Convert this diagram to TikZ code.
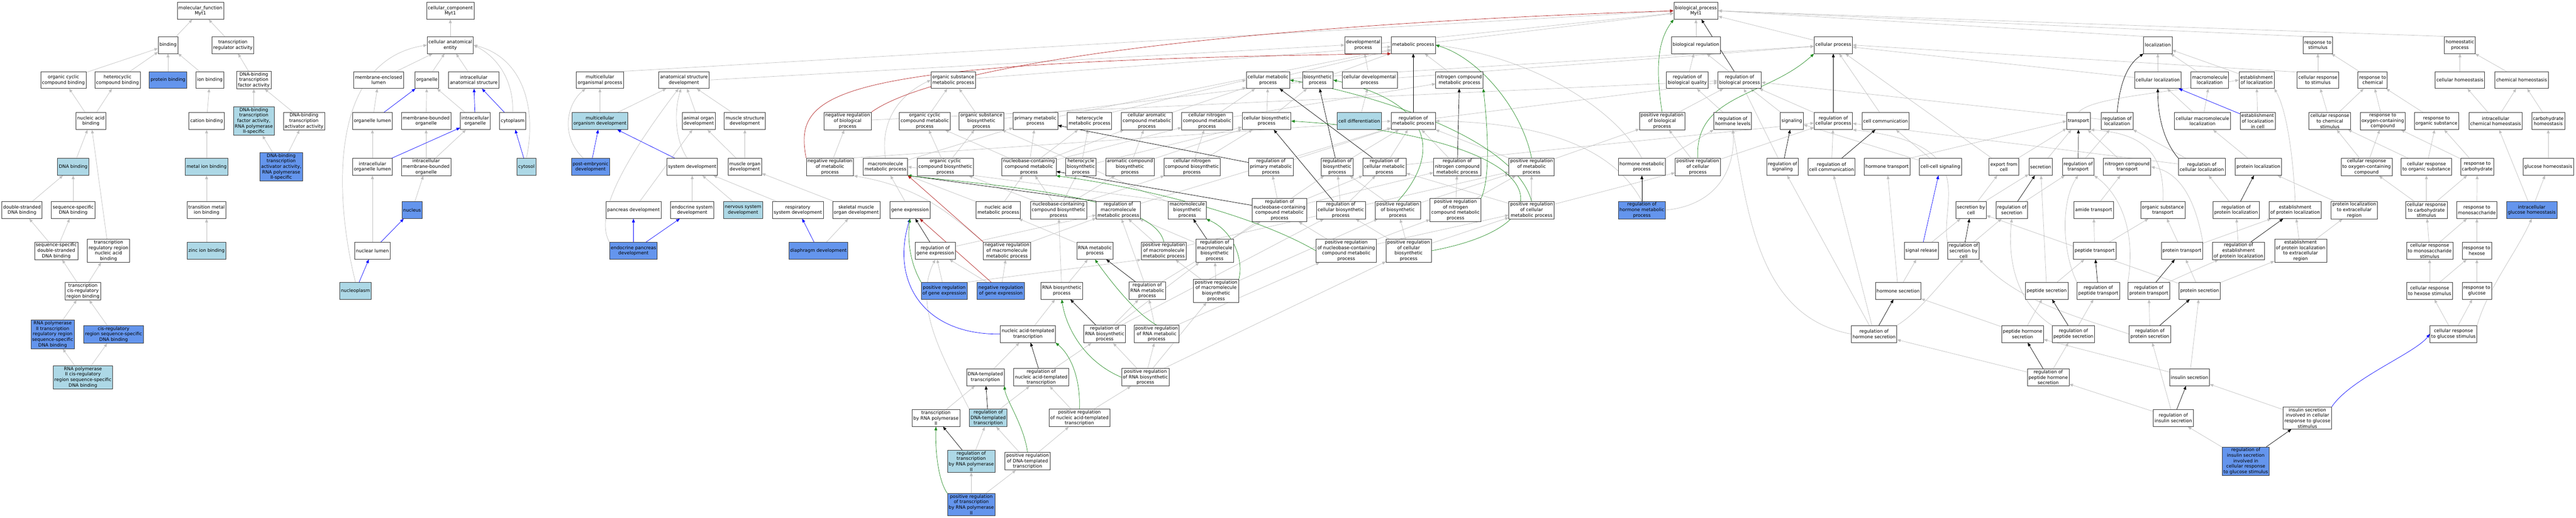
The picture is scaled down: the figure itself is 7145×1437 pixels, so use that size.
\documentclass[tikz,border=0pt]{standalone}
\usepackage{fontspec}
\setmainfont{DejaVu Sans}
\usetikzlibrary{arrows.meta}
\definecolor{egray}{RGB}{192,192,192}
\definecolor{lbc}{RGB}{173,216,230}
\definecolor{cfc}{RGB}{100,149,237}
\definecolor{grn}{RGB}{34,139,34}
\definecolor{rd}{RGB}{178,34,34}
\definecolor{bdr}{RGB}{55,55,55}
\pgfdeclarelayer{edges}
\pgfsetlayers{edges,main}
\begin{document}
\begin{tikzpicture}[x=1pt,y=-1pt,
 nd/.style={draw=bdr, line width=1.1pt, fill=white, font=\fontsize{12.7}{15.2}\selectfont, align=center, inner xsep=3.5pt, inner ysep=3pt, minimum height=47pt},
 lb/.style={nd, fill=lbc},
 cf/.style={nd, fill=cfc},
 eis/.style={draw=egray, line width=1pt, -{Triangle[length=10pt,width=8pt]}},
 epo/.style={eis, draw=blue},
 ere/.style={eis, draw=black},
 epr/.style={eis, draw=grn},
 ene/.style={eis, draw=rd}]
\useasboundingbox (0,0) rectangle (7145,1437);
% ---------- molecular function
\node[nd] (mf) at (556,30) {molecular\_function\\Myt1};
\node[nd] (binding) at (466,125) {binding};
\node[nd] (tra) at (646,125) {transcription\\regulator activity};
\node[nd] (occb) at (176,222) {organic cyclic\\compound binding};
\node[nd] (hcb) at (326,222) {heterocyclic\\compound binding};
\node[cf] (pb) at (466,222) {protein binding};
\node[nd] (ionb) at (582,222) {ion binding};
\node[nd] (dbtf) at (704,222) {DNA-binding\\transcription\\factor activity};
\node[nd] (nab) at (252,336) {nucleic acid\\binding};
\node[nd] (catb) at (573,336) {cation binding};
\node[lb] (dbtf2) at (704,336) {DNA-binding\\transcription\\factor activity,\\RNA polymerase\\II-specific};
\node[nd] (dbta) at (843,336) {DNA-binding\\transcription\\activator activity};
\node[lb] (dnab) at (203,463) {DNA binding};
\node[lb] (mib) at (573,463) {metal ion binding};
\node[cf] (dbta2) at (780,463) {DNA-binding\\transcription\\activator activity,\\RNA polymerase\\II-specific};
\node[nd] (dsdna) at (61,583) {double-stranded\\DNA binding};
\node[nd] (ssdna) at (203,583) {sequence-specific\\DNA binding};
\node[nd] (tmib) at (573,583) {transition metal\\ion binding};
\node[nd] (ssds) at (156,696) {sequence-specific\\double-stranded\\DNA binding};
\node[nd] (trr) at (301,696) {transcription\\regulatory region\\nucleic acid\\binding};
\node[lb] (zib) at (573,696) {zinc ion binding};
\node[nd] (tcrb) at (230,808) {transcription\\cis-regulatory\\region binding};
\node[cf] (rp2trr) at (146,928) {RNA polymerase\\II transcription\\regulatory region\\sequence-specific\\DNA binding};
\node[cf] (crr) at (315,928) {cis-regulatory\\region sequence-specific\\DNA binding};
\node[lb] (rp2cis) at (230,1047) {RNA polymerase\\II cis-regulatory\\region sequence-specific\\DNA binding};
% ---------- cellular component
\node[nd] (cc) at (1249,30) {cellular\_component\\Myt1};
\node[nd] (cae) at (1249,125) {cellular anatomical\\entity};
\node[nd] (mel) at (1050,222) {membrane-enclosed\\lumen};
\node[nd] (org) at (1184,222) {organelle};
\node[nd] (ias) at (1314,222) {intracellular\\anatomical structure};
\node[nd] (ol) at (1033,336) {organelle lumen};
\node[nd] (mbo) at (1182,336) {membrane-bounded\\organelle};
\node[nd] (io) at (1318,336) {intracellular\\organelle};
\node[nd] (cyto) at (1422,336) {cytoplasm};
\node[nd] (iol) at (1033,463) {intracellular\\organelle lumen};
\node[nd] (imbo) at (1182,463) {intracellular\\membrane-bounded\\organelle};
\node[lb] (cytosol) at (1460,463) {cytosol};
\node[cf] (nucleus) at (1143,583) {nucleus};
\node[nd] (nl) at (1033,696) {nuclear lumen};
\node[lb] (np) at (986,807) {nucleoplasm};
% ---------- development
\node[nd] (mop) at (1664,222) {multicellular\\organismal process};
\node[nd] (asd) at (1897,222) {anatomical structure\\development};
\node[lb] (mod) at (1664,336) {multicellular\\organism development};
\node[nd] (aod) at (1938,336) {animal organ\\development};
\node[nd] (msd) at (2066,336) {muscle structure\\development};
\node[cf] (ped) at (1638,463) {post-embryonic\\development};
\node[nd] (sd) at (1920,463) {system development};
\node[nd] (mod2) at (2066,463) {muscle organ\\development};
\node[nd] (pd) at (1757,583) {pancreas development};
\node[nd] (esd) at (1920,583) {endocrine system\\development};
\node[lb] (nsd) at (2061,583) {nervous system\\development};
\node[nd] (rsd) at (2213,583) {respiratory\\system development};
\node[nd] (smod) at (2375,583) {skeletal muscle\\organ development};
\node[cf] (epd) at (1757,696) {endocrine pancreas\\development};
\node[cf] (dd) at (2270,696) {diaphragm development};
% ---------- metabolism
\node[nd] (osmp) at (2644,222) {organic substance\\metabolic process};
\node[nd] (nrbp) at (2351,336) {negative regulation\\of biological\\process};
\node[nd] (occmp) at (2565,336) {organic cyclic\\compound metabolic\\process};
\node[nd] (osbp) at (2722,336) {organic substance\\biosynthetic\\process};
\node[nd] (pmp) at (2872,336) {primary metabolic\\process};
\node[nd] (hmp) at (3022,336) {heterocycle\\metabolic process};
\node[nd] (nrmp) at (2302,463) {negative regulation\\of metabolic\\process};
\node[nd] (mmp) at (2456,463) {macromolecule\\metabolic process};
\node[nd] (occbp) at (2622,463) {organic cyclic\\compound biosynthetic\\process};
\node[nd] (nccmp) at (2854,463) {nucleobase-containing\\compound metabolic\\process};
\node[nd] (hbp) at (2998,463) {heterocycle\\biosynthetic\\process};
\node[nd] (ge) at (2524,583) {gene expression};
\node[nd] (namp) at (2769,583) {nucleic acid\\metabolic process};
\node[nd] (nccbp) at (2936,583) {nucleobase-containing\\compound biosynthetic\\process};
\node[nd] (rmmp) at (3102,583) {regulation of\\macromolecule\\metabolic process};
\node[nd] (rge) at (2594,696) {regulation of\\gene expression};
\node[nd] (nrmmp) at (2793,696) {negative regulation\\of macromolecule\\metabolic process};
\node[nd] (rnamp) at (3037,696) {RNA metabolic\\process};
\node[cf] (prge) at (2619,807) {positive regulation\\of gene expression};
\node[cf] (nrge) at (2776,807) {negative regulation\\of gene expression};
\node[nd] (rnabp) at (2945,807) {RNA biosynthetic\\process};
\node[nd] (devp) at (3781,125) {developmental\\process};
\node[nd] (mp) at (3920,125) {metabolic process};
\node[nd] (cmp) at (3517,222) {cellular metabolic\\process};
\node[nd] (bsp) at (3655,222) {biosynthetic\\process};
\node[nd] (cdp) at (3799,222) {cellular developmental\\process};
\node[nd] (camp) at (3181,336) {cellular aromatic\\compound metabolic\\process};
\node[nd] (cncmp) at (3348,336) {cellular nitrogen\\compound metabolic\\process};
\node[nd] (cbp) at (3513,336) {cellular biosynthetic\\process};
\node[lb] (cd) at (3770,336) {cell differentiation};
\node[nd] (rmp) at (3920,336) {regulation of\\metabolic process};
\node[nd] (acbp) at (3134,463) {aromatic compound\\biosynthetic\\process};
\node[nd] (cncbp) at (3306,463) {cellular nitrogen\\compound biosynthetic\\process};
\node[nd] (rpmp) at (3525,463) {regulation of\\primary metabolic\\process};
\node[nd] (rbp) at (3709,463) {regulation of\\biosynthetic\\process};
\node[nd] (rcmp) at (3840,463) {regulation of\\cellular metabolic\\process};
\node[nd] (mbp) at (3293,583) {macromolecule\\biosynthetic\\process};
\node[nd] (rnccmp) at (3549,583) {regulation of\\nucleobase-containing\\compound metabolic\\process};
\node[nd] (rcbp) at (3719,583) {regulation of\\cellular biosynthetic\\process};
\node[nd] (prbp) at (3877,583) {positive regulation\\of biosynthetic\\process};
\node[nd] (prmmp) at (3228,696) {positive regulation\\of macromolecule\\metabolic process};
\node[nd] (rmbp) at (3369,696) {regulation of\\macromolecule\\biosynthetic\\process};
\node[nd] (prnccmp) at (3734,696) {positive regulation\\of nucleobase-containing\\compound metabolic\\process};
\node[nd] (prcbp) at (3907,696) {positive regulation\\of cellular\\biosynthetic\\process};
\node[nd] (rrnamp) at (3182,807) {regulation of\\RNA metabolic\\process};
\node[nd] (prmbp) at (3373,807) {positive regulation\\of macromolecule\\biosynthetic\\process};
\node[nd] (ncmp) at (4048,222) {nitrogen compound\\metabolic process};
\node[nd] (rncmp) at (4042,463) {regulation of\\nitrogen compound\\metabolic process};
\node[nd] (prmp) at (4248,463) {positive regulation\\of metabolic\\process};
\node[nd] (hormp) at (4554,463) {hormone metabolic\\process};
\node[nd] (prncmp) at (4037,583) {positive regulation\\of nitrogen\\compound metabolic\\process};
\node[nd] (prcmp) at (4248,583) {positive regulation\\of cellular\\metabolic process};
\node[cf] (rhmp) at (4554,583) {regulation of\\hormone metabolic\\process};
% ---------- transcription
\node[nd] (natt) at (2851,927) {nucleic acid-templated\\transcription};
\node[nd] (rrnabp) at (3064,927) {regulation of\\RNA biosynthetic\\process};
\node[nd] (prrnamp) at (3208,927) {positive regulation\\of RNA metabolic\\process};
\node[nd] (dtt) at (2733,1047) {DNA-templated\\transcription};
\node[nd] (rnatt) at (2888,1047) {regulation of\\nucleic acid-templated\\transcription};
\node[nd] (prrnabp) at (3177,1047) {positive regulation\\of RNA biosynthetic\\process};
\node[nd] (trp2) at (2596,1160) {transcription\\by RNA polymerase\\II};
\node[lb] (rdtt) at (2741,1160) {regulation of\\DNA-templated\\transcription};
\node[nd] (prnatt) at (2994,1160) {positive regulation\\of nucleic acid-templated\\transcription};
\node[lb] (rtrp2) at (2694,1280) {regulation of\\transcription\\by RNA polymerase\\II};
\node[nd] (prdtt) at (2850,1280) {positive regulation\\of DNA-templated\\transcription};
\node[cf] (prtrp2) at (2694,1400) {positive regulation\\of transcription\\by RNA polymerase\\II};
% ---------- regulation / signalling
\node[nd] (bp) at (4704,30) {biological\_process\\Myt1};
\node[nd] (br) at (4704,125) {biological regulation};
\node[nd] (rbq) at (4680,222) {regulation of\\biological quality};
\node[nd] (rbiop) at (4825,222) {regulation of\\biological process};
\node[nd] (prbiop) at (4610,336) {positive regulation\\of biological\\process};
\node[nd] (prcp) at (4709,463) {positive regulation\\of cellular\\process};
\node[nd] (rhl) at (4806,336) {regulation of\\hormone levels};
\node[nd] (sig) at (4970,336) {signaling};
\node[nd] (cp) at (5085,125) {cellular process};
\node[nd] (rcp) at (5085,336) {regulation of\\cellular process};
\node[nd] (cc2) at (5230,336) {cell communication};
\node[nd] (rsig) at (4944,463) {regulation of\\signaling};
\node[nd] (rcc) at (5080,463) {regulation of\\cell communication};
\node[nd] (ht) at (5234,463) {hormone transport};
\node[nd] (ccs) at (5382,463) {cell-cell signaling};
\node[nd] (efc) at (5558,463) {export from\\cell};
\node[nd] (sbc) at (5467,583) {secretion by\\cell};
\node[nd] (sr) at (5329,696) {signal release};
\node[nd] (rsbc) at (5446,696) {regulation of\\secretion by\\cell};
\node[nd] (hs) at (5265,807) {hormone secretion};
\node[nd] (rhs) at (5198,927) {regulation of\\hormone secretion};
\node[nd] (phs) at (5610,927) {peptide hormone\\secretion};
\node[nd] (rps) at (5751,927) {regulation of\\peptide secretion};
\node[nd] (rprs) at (5963,927) {regulation of\\protein secretion};
\node[nd] (rphs) at (5681,1047) {regulation of\\peptide hormone\\secretion};
\node[nd] (ins) at (6073,1047) {insulin secretion};
\node[nd] (rins) at (6028,1160) {regulation of\\insulin secretion};
\node[nd] (isec) at (6400,1160) {insulin secretion\\involved in cellular\\response to glucose\\stimulus};
\node[cf] (risec) at (6229,1280) {regulation of\\insulin secretion\\involved in\\cellular response\\to glucose stimulus};
% ---------- localization
\node[nd] (loc) at (5985,125) {localization};
\node[nd] (cl) at (5985,222) {cellular localization};
\node[nd] (ml) at (6129,222) {macromolecule\\localization};
\node[nd] (eol) at (6259,222) {establishment\\of localization};
\node[nd] (tr) at (5765,336) {transport};
\node[nd] (rloc) at (5872,336) {regulation of\\localization};
\node[nd] (cml) at (6109,336) {cellular macromolecule\\localization};
\node[nd] (eolc) at (6262,336) {establishment\\of localization\\in cell};
\node[nd] (sec) at (5660,463) {secretion};
\node[nd] (rtr) at (5764,463) {regulation of\\transport};
\node[nd] (nct) at (5900,463) {nitrogen compound\\transport};
\node[nd] (rcl) at (6107,463) {regulation of\\cellular localization};
\node[nd] (pl) at (6264,463) {protein localization};
\node[nd] (rsec) at (5580,583) {regulation of\\secretion};
\node[nd] (amt) at (5807,583) {amide transport};
\node[nd] (ost) at (5999,583) {organic substance\\transport};
\node[nd] (rpl) at (6202,583) {regulation of\\protein localization};
\node[nd] (epl) at (6366,583) {establishment\\of protein localization};
\node[nd] (pept) at (5810,696) {peptide transport};
\node[nd] (prt) at (6052,696) {protein transport};
\node[nd] (repl) at (6209,696) {regulation of\\establishment\\of protein localization};
\node[nd] (eplx) at (6381,696) {establishment\\of protein localization\\to extracellular\\region};
\node[nd] (peps) at (5677,807) {peptide secretion};
\node[nd] (rpt) at (5820,807) {regulation of\\peptide transport};
\node[nd] (rprt) at (5960,807) {regulation of\\protein transport};
\node[nd] (prs) at (6101,807) {protein secretion};
% ---------- response / homeostasis
\node[nd] (rs) at (6429,125) {response to\\stimulus};
\node[nd] (hp) at (6823,125) {homeostatic\\process};
\node[nd] (crs) at (6429,222) {cellular response\\to stimulus};
\node[nd] (rc) at (6581,222) {response to\\chemical};
\node[nd] (ch) at (6823,222) {cellular homeostasis};
\node[nd] (chh) at (6994,222) {chemical homeostasis};
\node[nd] (crcs) at (6462,336) {cellular response\\to chemical\\stimulus};
\node[nd] (roc) at (6609,336) {response to\\oxygen-containing\\compound};
\node[nd] (ros) at (6758,336) {response to\\organic substance};
\node[nd] (ich) at (6922,336) {intracellular\\chemical homeostasis};
\node[nd] (carbh) at (7068,336) {carbohydrate\\homeostasis};
\node[nd] (croc) at (6564,463) {cellular response\\to oxygen-containing\\compound};
\node[nd] (cros) at (6730,463) {cellular response\\to organic substance};
\node[nd] (rcarb) at (6871,463) {response to\\carbohydrate};
\node[nd] (gh) at (7068,463) {glucose homeostasis};
\node[nd] (plx) at (6530,583) {protein localization\\to extracellular\\region};
\node[nd] (crcarb) at (6730,583) {cellular response\\to carbohydrate\\stimulus};
\node[nd] (rmono) at (6870,583) {response to\\monosaccharide};
\node[cf] (igh) at (7022,583) {intracellular\\glucose homeostasis};
\node[nd] (crmono) at (6739,696) {cellular response\\to monosaccharide\\stimulus};
\node[nd] (rhex) at (6870,696) {response to\\hexose};
\node[nd] (crhex) at (6739,807) {cellular response\\to hexose stimulus};
\node[nd] (rglu) at (6870,807) {response to\\glucose};
\node[nd] (crglu) at (6805,927) {cellular response\\to glucose stimulus};
% ================= edges (behind nodes)
\begin{pgfonlayer}{edges}
\fill[white] (0,0) rectangle (7145,1437);
\foreach \a/\b in {binding/mf, tra/mf, occb/binding, hcb/binding, pb/binding, ionb/binding, dbtf/tra, nab/occb, nab/hcb, catb/ionb, dbtf2/dbtf, dbta/dbtf, dnab/nab, mib/catb, dbta2/dbtf2, dbta2/dbta, dsdna/dnab, ssdna/dnab, tmib/mib, ssds/dsdna, ssds/ssdna, trr/nab, zib/tmib, tcrb/ssds, tcrb/trr, rp2trr/tcrb, crr/tcrb, rp2cis/rp2trr, rp2cis/crr,
 cae/cc, mel/cae, org/cae, ias/cae, ol/mel, mbo/org, io/org, iol/ol, imbo/mbo, imbo/io, nucleus/imbo, nl/iol,
 mod/mop, mod/asd, aod/asd, msd/asd, mod2/aod, mod2/msd, pd/aod, esd/sd, nsd/sd, rsd/sd, smod/mod2, dd/smod, cd/cdp, cdp/devp, cdp/cp, devp/bp, mp/bp, br/bp, cp/bp,
 cmp/mp, bsp/mp, osmp/mp, ncmp/mp, pmp/mp, cmp/cp, occmp/osmp, osbp/osmp, osbp/bsp, mmp/pmp, camp/cmp, cncmp/cmp, cncmp/ncmp, cbp/cmp, cbp/bsp, rmp/rbiop, nrmp/nrbp, prmp/rmp, prmp/prbiop, occbp/occmp, occbp/osbp, nccmp/hmp, nccmp/camp, nccmp/occmp, nccmp/cncmp, nccmp/pmp, hbp/hmp, hbp/cbp, acbp/camp, acbp/cbp, cncbp/cncmp, cncbp/cbp, rpmp/rmp, rbp/rmp, rcmp/rmp, rcmp/rcp, rncmp/rmp, prcp/rcp, prcp/prbiop, ge/mmp, namp/nccmp, namp/mmp, nccbp/nccmp, nccbp/hbp, nccbp/acbp, nccbp/cncbp, nccbp/occbp, rmmp/rmp, mbp/osbp, rnccmp/rcmp, rnccmp/rncmp, rnccmp/rpmp, rcbp/rbp, rcbp/rcmp, prbp/rbp, prbp/prmp, prncmp/rncmp, prncmp/prmp, prcmp/rcmp, prcmp/prmp, prcmp/prcp, rge/rmmp, nrmmp/rmmp, rnamp/namp, prmmp/rmmp, prmmp/prmp, rmbp/rmmp, rmbp/rbp, prnccmp/rnccmp, prnccmp/prcmp, prnccmp/prncmp, prcbp/rcbp, prcbp/prbp, prcbp/prcmp, prge/rge, nrge/rge, nrge/nrmmp, rnabp/rnamp, rnabp/nccbp, rrnamp/rnccmp, rrnamp/rmmp, prmbp/rmbp, prmbp/prmmp, prmbp/prbp, natt/rnabp, rrnabp/rrnamp, rrnabp/rmbp, rrnabp/rcbp, prrnamp/rrnamp, prrnamp/prnccmp, dtt/natt, rnatt/rrnabp, prrnabp/rrnabp, prrnabp/prrnamp, prrnabp/prmbp, prrnabp/prcbp, trp2/dtt, rdtt/rnatt, prnatt/rnatt, prnatt/prrnabp, rtrp2/rdtt, prdtt/rdtt, prdtt/prnatt, prtrp2/rtrp2, prtrp2/prdtt,
 rbiop/br, rbq/br, prbiop/rbiop, nrbp/rbiop, rhl/rbq, sig/rbiop, rcp/rbiop, cc2/cp, rsig/rbiop, rcc/rcp, ccs/cc2, ccs/sig, efc/cp, efc/tr, sbc/efc, sbc/sec, sr/sbc, rsbc/rsec, hs/sr, hs/ht, rhs/rsig, rhs/rcc, phs/hs, phs/peps, rps/rpt, rprs/rprt, rphs/rps, rphs/rhs, ins/phs, ins/prs, rins/rphs, rins/rprs, isec/ins, risec/rins,
 cl/loc, cl/cp, ml/loc, eol/loc, cml/cl, cml/ml, eolc/eol, sec/tr, rtr/rloc, nct/tr, rcl/rloc, rcl/rcp, pl/cml, rsec/rtr, amt/nct, rpl/rcl, eplx/epl, eplx/plx, plx/pl, pept/amt, pept/ost, prt/ost, prt/epl, repl/rpl, peps/pept, peps/sec, prs/prt, prs/eplx, prs/sbc, rloc/rbiop, rprt/repl,
 crs/rs, rc/rs, ch/hp, chh/hp, crcs/crs, crcs/rc, roc/rc, ros/rc, ich/ch, ich/chh, carbh/chh, croc/crcs, croc/roc, cros/crcs, cros/ros, rcarb/roc, rcarb/ros, gh/carbh, crcarb/croc, crcarb/cros, crcarb/rcarb, rmono/rcarb, igh/ich, igh/gh, crmono/crcarb, crmono/rmono, rhex/rmono, crhex/crmono, crhex/rhex, rglu/rhex, crglu/crhex, crglu/rglu}
 \draw[eis] (\a) -- (\b);
% special gray edges
\draw[eis] (np.north) .. controls (930,560) and (905,170) .. (cae.west);
\draw[eis] (cyto.north) .. controls (1425,250) and (1400,170) .. (cae.east);
\draw[eis] (cytosol.north) .. controls (1490,300) and (1450,160) .. (cae.east);
\draw[eis] ([xshift=-20pt]ped.north) .. controls (1555,380) and (1570,290) .. ([xshift=-40pt]mop.south);
\draw[eis] ([xshift=-14pt]sd.north) .. controls (1868,380) and (1872,300) .. ([xshift=-8pt]asd.south);
\draw[eis] (epd.north west) .. controls (1650,600) and (1720,460) .. ([xshift=-15pt]asd.south);
\draw[eis] (mop.north east) -- (bp.west);
\draw[eis] (asd.east) -- (devp.west);
\draw[eis] (mmp.north) .. controls (2440,330) and (2500,260) .. (osmp.west);
\draw[eis] (mbp.north west) -- (mmp.east);
\draw[eis] (hmp.north east) -- (cmp.west);
\draw[eis] (nrmp.north east) -- (rmp.west);
\draw[eis] (hormp.north) .. controls (4480,300) and (4250,160) .. (mp.east);
\draw[eis] (hormp.north east) -- (rhl.south west);
\draw[eis] (rhmp.north) .. controls (4480,420) and (4300,340) .. (rmp.east);
\draw[eis] (rhmp.east) .. controls (4760,570) and (4815,470) .. (rhl.south);
\draw[eis] (nrmmp.north west) .. controls (2640,600) and (2560,520) .. (nrmp.south east);
\draw[eis] (prge.north east) -- (prmmp.south west);
\draw[eis] (rdtt.north west) .. controls (2620,1000) and (2530,850) .. (rge.south);
\draw[eis] (rhs.north east) .. controls (5330,860) and (5385,780) .. (rsbc.south);
\draw[eis] (rhs.west) .. controls (4880,880) and (4850,600) .. (rhl.south);
\draw[eis] (rsbc.north west) .. controls (5380,560) and (5500,400) .. (rcp.south east);
\draw[eis] (rprs.west) .. controls (5780,885) and (5600,840) .. (rsbc.south east);
\draw[eis] (rps.north west) .. controls (5580,830) and (5570,700) .. (rsec.south);
\draw[eis] (ht.north east) -- (tr.west);
\draw[eis] (ost.north) .. controls (6005,430) and (5950,370) .. (tr.south east);
\draw[eis] (prt.north east) .. controls (6090,560) and (6050,480) .. (nct.east);
\draw[eis] (epl.north) .. controls (6360,420) and (6340,300) .. (eol.south east);
\draw[eis] (rpt.north west) .. controls (5720,700) and (5715,560) .. (rtr.south);
\draw[eis] (rprt.north west) .. controls (5925,640) and (5880,540) .. (rtr.south east);
\draw[eis] (tr.north) .. controls (5800,270) and (6000,260) .. (eol.west);
\draw[eis] (loc.north west) -- (bp.east);
\draw[eis] (rs.north west) -- (bp.east);
\draw[eis] (hp.north west) -- (bp.east);
\draw[eis] ([yshift=-2pt]crs.north west) -- (cp.east);
\draw[eis] (crglu.north east) .. controls (6900,800) and (6980,700) .. (igh.south);
% part of
\foreach \a/\b in {ol/org, io/ias, cyto/ias, iol/io, nl/nucleus, np/nl, cytosol/cyto, ped/mod, sd/mod, epd/pd, epd/esd, dd/rsd, sr/ccs, eolc/cl}
 \draw[epo] (\a) -- (\b);
\draw[epo] (isec.north east) .. controls (6520,1050) and (6700,980) .. (crglu.west);
\draw[epo] (natt.west) .. controls (2560,930) and (2470,780) .. (ge.south);
% regulates
\foreach \a/\b in {rbiop/bp, rmp/mp, rpmp/pmp, rbp/bsp, rcmp/cmp, rncmp/ncmp, rnccmp/nccmp, rcbp/cbp, rhmp/hormp, rge/ge, rmbp/mbp, rrnamp/rnamp, rrnabp/rnabp, rnatt/natt, rdtt/dtt, rtrp2/trp2, rcp/cp, rsig/sig, rcc/cc2, rsbc/sbc, rhs/hs, rps/peps, rprs/prs, rphs/phs, rins/ins, risec/isec, rtr/tr, rsec/sec, rpl/pl, repl/epl, rpt/pept, rprt/prt}
 \draw[ere] (\a) -- (\b);
\draw[ere] (rmmp.north west) -- (mmp.south east);
\draw[ere] (rloc.north) .. controls (5880,230) and (5900,180) .. (loc.south west);
\draw[ere] (rcl.north west) .. controls (6000,390) and (5985,320) .. (cl.south);
% positively regulates
\draw[epr] (prbiop.north) .. controls (4590,180) and (4600,110) .. (bp.south west);
\draw[epr] (prmp.north) .. controls (4220,300) and (4100,160) .. (mp.east);
\draw[epr] (prcp.north) .. controls (4700,260) and (4900,270) .. (cp.south west);
\draw[epr] (prbp.north) .. controls (3960,470) and (4030,300) .. (bsp.east);
\draw[epr] (prncmp.north east) .. controls (4140,480) and (4120,300) .. (ncmp.south east);
\draw[epr] (prcmp.north) .. controls (4200,380) and (3800,260) .. (cmp.east);
\draw[epr] (prmmp.north) .. controls (3200,540) and (2700,510) .. (mmp.south east);
\draw[epr] (prnccmp.west) .. controls (3450,580) and (3100,510) .. (nccmp.south east);
\draw[epr] (prcbp.east) .. controls (4380,620) and (4300,380) .. (cbp.east);
\draw[epr] (prge.north west) .. controls (2530,740) and (2515,680) .. (ge.south);
\draw[epr] (prmbp.north east) .. controls (3450,720) and (3420,640) .. (mbp.south east);
\draw[epr] (prrnamp.north) .. controls (3150,870) and (3080,780) .. (rnamp.south);
\draw[epr] (prrnabp.west) .. controls (3000,1000) and (2955,900) .. (rnabp.south);
\draw[epr] (prnatt.north) .. controls (2997,1060) and (2975,990) .. (natt.south east);
\draw[epr] (prdtt.north) .. controls (2840,1180) and (2790,1110) .. (dtt.south east);
\draw[epr] (prtrp2.north west) .. controls (2600,1330) and (2594,1240) .. (trp2.south);
% negatively regulates
\draw[ene] (nrbp.north east) .. controls (2600,180) and (3400,70) .. (bp.west);
\draw[ene] (nrmp.north west) .. controls (2200,250) and (2300,170) .. (mp.south west);
\draw[ene] (nrmmp.north west) -- (mmp.south east);
\draw[ene] (nrge) -- (ge);
\end{pgfonlayer}
\end{tikzpicture}
\end{document}
